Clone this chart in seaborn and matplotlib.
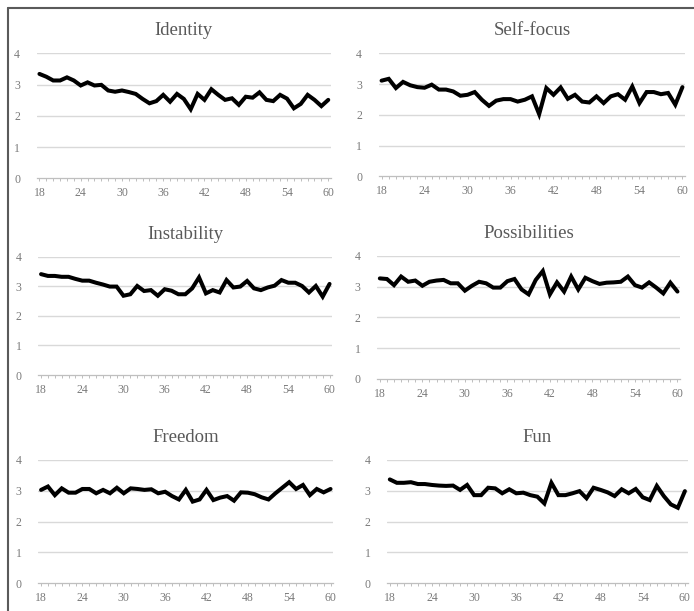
import numpy as np
import pandas as pd
import matplotlib
matplotlib.use("Agg")
import matplotlib.pyplot as plt
from matplotlib.lines import Line2D
from matplotlib.ticker import MultipleLocator
import seaborn as sns

ages = list(range(18, 61))

identity = [3.34, 3.25, 3.13, 3.13, 3.23, 3.13, 2.97, 3.07, 2.97, 2.99,
            2.81, 2.77, 2.81, 2.76, 2.70, 2.54, 2.40, 2.47, 2.67, 2.45,
            2.70, 2.54, 2.21, 2.70, 2.51, 2.85, 2.67, 2.51, 2.56, 2.35,
            2.61, 2.58, 2.75, 2.51, 2.47, 2.67, 2.55, 2.24, 2.38, 2.67,
            2.51, 2.31, 2.51]

self_focus = [3.11, 3.17, 2.87, 3.07, 2.96, 2.90, 2.88, 2.98, 2.82, 2.82,
              2.76, 2.62, 2.65, 2.74, 2.49, 2.29, 2.46, 2.51, 2.51, 2.43,
              2.49, 2.60, 2.02, 2.87, 2.65, 2.89, 2.52, 2.65, 2.43, 2.40,
              2.60, 2.38, 2.60, 2.67, 2.49, 2.92, 2.38, 2.74, 2.74, 2.67,
              2.71, 2.33, 2.90]

instability = [3.41, 3.35, 3.35, 3.32, 3.32, 3.25, 3.19, 3.19, 3.12, 3.06,
               2.99, 2.99, 2.68, 2.73, 3.01, 2.84, 2.87, 2.68, 2.90, 2.85,
               2.73, 2.73, 2.93, 3.30, 2.76, 2.87, 2.79, 3.21, 2.96, 2.99,
               3.18, 2.93, 2.87, 2.96, 3.02, 3.21, 3.12, 3.12, 3.01, 2.79,
               3.01, 2.65, 3.08]

possibilities = [3.27, 3.25, 3.05, 3.33, 3.16, 3.20, 3.03, 3.16, 3.20, 3.22,
                 3.11, 3.11, 2.87, 3.03, 3.16, 3.11, 2.97, 2.97, 3.18, 3.25,
                 2.91, 2.75, 3.22, 3.51, 2.75, 3.14, 2.84, 3.33, 2.91, 3.29,
                 3.18, 3.09, 3.13, 3.14, 3.16, 3.33, 3.05, 2.97, 3.14, 2.97,
                 2.78, 3.13, 2.84]

freedom = [3.03, 3.14, 2.86, 3.08, 2.94, 2.94, 3.06, 3.06, 2.92, 3.03,
           2.92, 3.10, 2.92, 3.08, 3.06, 3.03, 3.05, 2.92, 2.97, 2.83,
           2.72, 3.03, 2.65, 2.72, 3.03, 2.70, 2.78, 2.83, 2.68, 2.95,
           2.94, 2.89, 2.79, 2.72, 2.92, 3.10, 3.28, 3.06, 3.19, 2.86,
           3.06, 2.95, 3.06]

fun = [3.37, 3.26, 3.26, 3.28, 3.22, 3.22, 3.19, 3.17, 3.16, 3.17,
       3.03, 3.19, 2.86, 2.86, 3.10, 3.08, 2.92, 3.05, 2.92, 2.94,
       2.86, 2.81, 2.59, 3.26, 2.86, 2.86, 2.92, 2.99, 2.76, 3.10,
       3.03, 2.95, 2.83, 3.05, 2.92, 3.06, 2.79, 2.70, 3.16, 2.83,
       2.56, 2.45, 2.99]

titles = ["Identity", "Self-focus", "Instability", "Possibilities", "Freedom", "Fun"]
series = [identity, self_focus, instability, possibilities, freedom, fun]

x_major = list(range(18, 61, 6))
y_ticks = [0, 1, 2, 3, 4]

sns.set_theme(style="white")
plt.rcParams["font.family"] = ["Liberation Serif", "DejaVu Serif"]

W, H = 694, 611
fig = plt.figure(figsize=(W / 100, H / 100), dpi=100)
fig.patch.set_facecolor("white")

# panel rectangles in pixels: left, top, right, bottom
rects = [
    (36.7, 53.3, 331.0, 178.3),
    (378.7, 53.3, 685.3, 176.3),
    (38.3, 256.7, 332.3, 375.0),
    (377.0, 256.0, 680.3, 378.7),
    (38.3, 460.0, 333.3, 583.3),
    (387.0, 460.0, 687.7, 583.3),
]

grid_c = "#d9d9d9"
axis_c = "#bfbfbf"
tick_txt = "#7a7a7a"
title_c = "#595959"

for (l, t, r, b), title, vals in zip(rects, titles, series):
    ax = fig.add_axes([l / W, 1 - b / H, (r - l) / W, (b - t) / H])
    df = pd.DataFrame({"age": ages, "score": vals})
    sns.lineplot(data=df, x="age", y="score", ax=ax, color="black",
                 linewidth=2.9, solid_joinstyle="miter", clip_on=False)
    ax.set_xlim(17.6, 60.4)
    ax.set_ylim(0, 4)
    ax.set_xticks(x_major)
    ax.set_xticklabels([str(v) for v in x_major])
    ax.xaxis.set_minor_locator(MultipleLocator(1))
    ax.set_yticks(y_ticks)
    ax.set_yticklabels([str(v) for v in y_ticks])
    ax.set_xlabel("")
    ax.set_ylabel("")
    for yv in y_ticks[1:]:
        ax.axhline(yv, color=grid_c, linewidth=1.0, zorder=0)
    for side in ["top", "right", "left"]:
        ax.spines[side].set_visible(False)
    ax.spines["bottom"].set_color(axis_c)
    ax.spines["bottom"].set_linewidth(0.9)
    ax.tick_params(axis="x", which="both", direction="out", length=2.5,
                   width=0.7, color=axis_c, labelsize=8.5,
                   labelcolor=tick_txt, pad=4, bottom=True)
    ax.tick_params(axis="y", length=0, labelsize=8.5, labelcolor=tick_txt,
                   pad=12)
    ax.set_title(title, fontsize=13.5, color=title_c, pad=13)

# outer frame
fig.add_artist(Line2D([8 / W, 1.0], [1 - 8 / H, 1 - 8 / H],
                      color="#5a5a5a", linewidth=1.5, transform=fig.transFigure))
fig.add_artist(Line2D([8 / W, 8 / W], [1 - 8 / H, 0.0],
                      color="#5a5a5a", linewidth=1.5, transform=fig.transFigure))

fig.savefig("out.png", dpi=100, facecolor="white")
